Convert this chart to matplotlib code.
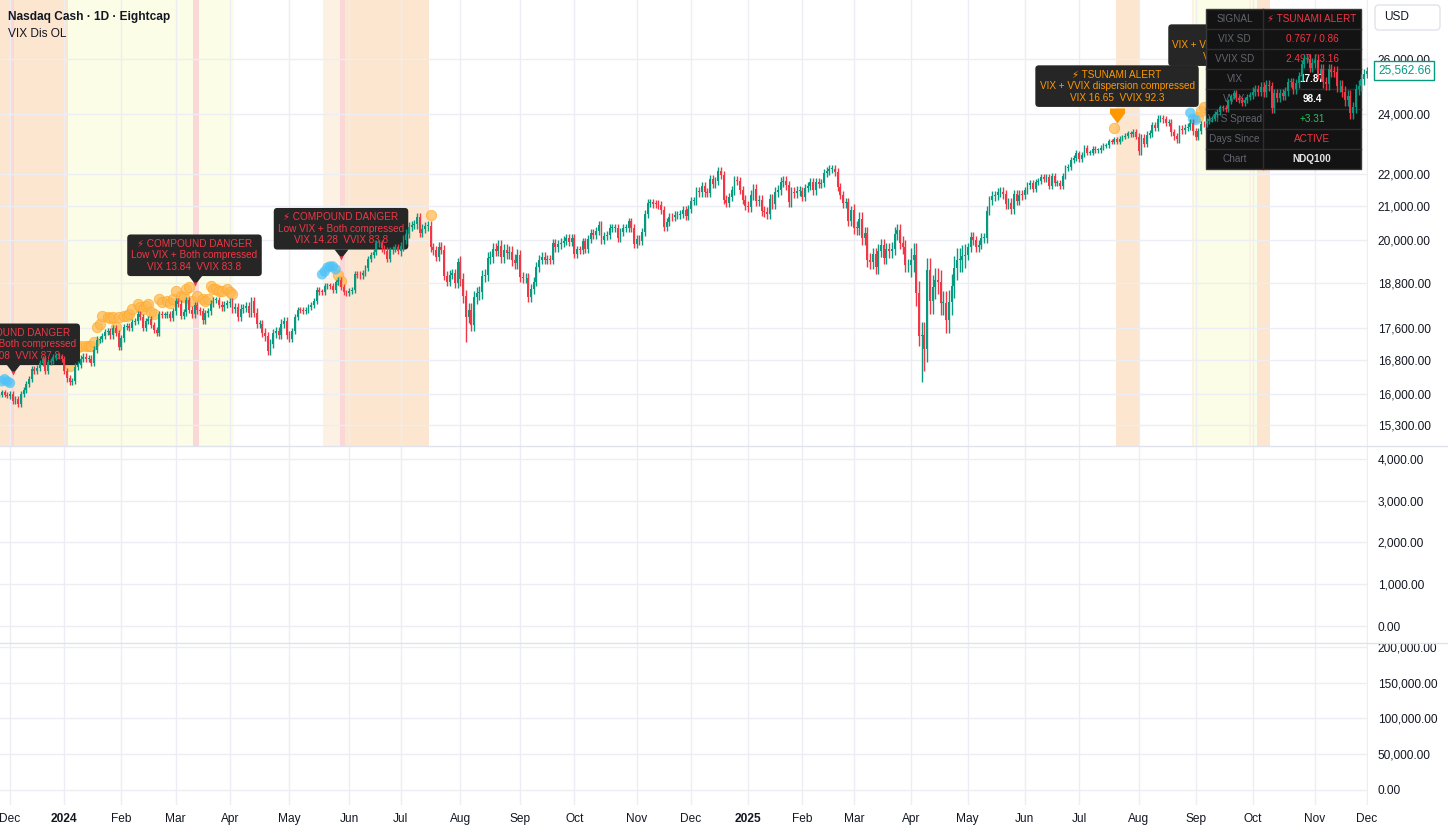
import numpy as np
import pandas as pd
import matplotlib
matplotlib.use("Agg")
import matplotlib.pyplot as plt
import matplotlib.transforms as mtransforms
from matplotlib.patches import Rectangle, FancyBboxPatch
from matplotlib.lines import Line2D
from matplotlib.ticker import FixedLocator, FuncFormatter, NullLocator

plt.rcParams['font.family'] = ['Liberation Sans', 'DejaVu Sans']

# ---------------------------------------------------------------- data
HOLIDAYS = ["2023-12-25", "2024-01-01", "2024-01-15", "2024-02-19", "2024-03-29",
            "2024-05-27", "2024-06-19", "2024-07-04", "2024-09-02", "2024-11-28",
            "2024-12-25", "2025-01-01", "2025-01-09", "2025-01-20", "2025-02-17",
            "2025-04-18", "2025-05-26", "2025-06-19", "2025-07-04", "2025-09-01",
            "2025-11-27"]
dates = pd.bdate_range("2023-11-27", "2025-12-01", freq="C", holidays=HOLIDAYS)

nov23 = [15980, 16040, 15990, 15960]
dec23 = [15997, 15839, 15880, 15770, 15997, 16085, 16229, 16364, 16585, 16553, 16623, 16730,
         16830, 16553, 16762, 16777, 16878, 16906, 16898, 16826]
jan24 = [16543, 16368, 16283, 16306, 16649, 16696, 16843, 16891, 16832, 16844, 16745, 17065,
         17314, 17330, 17400, 17500, 17519, 17421, 17597, 17476, 17137]
feb24 = [17345, 17642, 17647, 17615, 17755, 17783, 17962, 17882, 17600, 17778, 17845, 17685,
         17550, 17480, 17967, 17937, 17954, 17966, 17874, 18043]
mar24 = [18302, 18234, 17917, 18018, 18339, 18080, 17965, 18204, 18061, 18036, 17808, 17985,
         18040, 18240, 18339, 18339, 18212, 18143, 18209, 18254]
apr24 = [18277, 18109, 18153, 17892, 18108, 18132, 18168, 17988, 18319, 18003, 17707, 17707,
         17493, 17394, 17037, 17211, 17471, 17526, 17430, 17718, 17783, 17441]
may24 = [17322, 17540, 17890, 18070, 18068, 18060, 18085, 18161, 18200, 18322, 18593, 18557,
         18546, 18701, 18722, 18710, 18598, 18808, 18869, 18676, 18538, 18536]
jun24 = [18575, 18609, 19036, 19024, 19000, 19074, 19210, 19466, 19577, 19659, 19903, 19908,
         19761, 19700, 19473, 19701, 19750, 19790, 19683]
jul24 = [19815, 20011, 20186, 20392, 20439, 20459, 20675, 20212, 20331, 20408, 20427, 19799,
         19710, 19523, 19803, 19723, 18998, 18830, 19024, 19059, 18797, 19362]
aug24 = [18890, 18440, 17895, 18080, 17693, 18413, 18513, 18540, 18990, 19020, 19484, 19508,
         19750, 19700, 19820, 19520, 19720, 19620, 19660, 19430, 19360, 19575]
sep24 = [18960, 18920, 18930, 18420, 18640, 18830, 19240, 19440, 19520, 19440, 19455, 19440,
         19910, 19800, 19880, 19930, 19980, 20060, 19950, 20060]
oct24 = [19590, 19730, 19710, 19960, 19750, 20030, 20200, 20140, 20270, 20440, 20010, 20120,
         20150, 20350, 20360, 20360, 20060, 20240, 20350, 20350, 20550, 20360, 19890]
nov24 = [20030, 19970, 20240, 20780, 21100, 21120, 21080, 21070, 21030, 20900, 20390, 20530,
         20690, 20670, 20740, 20740, 20780, 20880, 20710, 20930]
dec24 = [21160, 21170, 21460, 21430, 21620, 21430, 21410, 21840, 21690, 21780, 22100, 21980,
         21210, 21110, 21290, 21490, 21800, 21790, 21500, 21210, 21010]
jan25 = [20980, 21350, 21550, 21170, 21190, 20850, 20820, 20760, 21240, 21080, 21440, 21500,
         21760, 21790, 21650, 21130, 21450, 21410, 21480, 21480]
feb25 = [21300, 21560, 21640, 21750, 21490, 21760, 21700, 21720, 22030, 22110, 22170, 22180,
         22060, 21610, 21350, 21090, 21130, 20550, 20880]
mar25 = [20360, 20350, 20630, 20050, 20200, 19430, 19370, 19590, 19230, 19700, 19850, 19500,
         19740, 19680, 19750, 20180, 20290, 19920, 19800, 19280, 19280]
apr25 = [19440, 19580, 18520, 17400, 17430, 17090, 19150, 18310, 18690, 18870, 18830, 18260,
         18260, 17810, 18280, 18710, 19210, 19430, 19430, 19540, 19570]
may25 = [19790, 20100, 19990, 19790, 19870, 20060, 20060, 20870, 21190, 21320, 21340, 21430,
         21450, 21370, 21070, 21110, 20920, 21370, 21180, 21360, 21340]
jun25 = [21490, 21650, 21720, 21550, 21760, 21790, 21910, 21860, 21910, 21630, 21940, 21720,
         21720, 21630, 21940, 22190, 22240, 22450, 22530, 22680]
jul25 = [22480, 22640, 22870, 22690, 22700, 22830, 22780, 22780, 22860, 22930, 22950, 23080,
         23070, 23150, 23060, 23160, 23220, 23270, 23360, 23310, 23400, 23220]
aug25 = [22760, 23200, 23000, 23300, 23350, 23620, 23540, 23840, 23850, 23830, 23710, 23710,
         23380, 23240, 23140, 23500, 23450, 23530, 23570, 23700, 23410]
sep25 = [23230, 23410, 23660, 23650, 23760, 23840, 23850, 24000, 24090, 24240, 24220, 24180,
         24450, 24630, 24760, 24580, 24500, 24400, 24500, 24610, 24680]
oct25 = [24800, 24880, 24790, 24980, 24780, 25050, 24990, 24220, 24750, 24580, 24750, 24650,
         24820, 25140, 25140, 24890, 25100, 25360, 25820, 26010, 26010, 25680, 25860]
nov25 = [25970, 25440, 25620, 25130, 25060, 25610, 25530, 25520, 24990, 25010, 24800, 24500,
         24640, 24050, 24240, 24880, 25020, 25240, 25430]
dec25 = [25562.66]

# typical wick length (points) per month, Nov-23 .. Dec-25
wick_by_month = [50, 70, 80, 80, 90, 110, 80, 90, 130, 170, 130, 110, 120,
                 130, 150, 130, 190, 330, 140, 100, 80, 120, 100, 160, 200, 150]
low_override = {"2024-08-05": 17250, "2025-04-04": 17150, "2025-04-07": 16280,
                "2025-04-08": 16540}
high_override = {"2025-04-09": 19500}

# signal shading (trading-day numbers, inclusive)
band_kind = ["peach", "pink", "yellow", "pink", "yellow", "light", "pink", "peach",
             "peach", "light", "yellow", "light", "yellow", "peach"]
band_start = [0, 5, 26, 72, 74, 120, 126, 128, 412, 440, 441, 461, 462, 464]
band_end = [25, 5, 71, 73, 86, 125, 127, 158, 420, 440, 460, 461, 463, 468]

orange_idx = [26, 27, 29, 30, 32, 33, 34, 35, 36, 37, 38, 40, 41, 42, 43, 44, 46, 47, 48, 49,
              51, 52, 53, 54, 55, 56, 57, 59, 60, 62, 63, 64, 65, 67, 68, 69, 70, 71, 73, 75,
              76, 77, 78, 79, 80, 81, 82, 84, 85, 86, 125, 126, 159, 411, 442, 443, 444]
orange_val = [16660, 16990, 17130, 17150, 17150, 17150, 17160, 17250, 17630, 17710, 17910,
              17890, 17860, 17890, 17630, 17890, 17910, 17910, 17970, 18100, 18230, 18150,
              18100, 18180, 18230, 18020, 17970, 18360, 18280, 18310, 18250, 18360, 18580,
              18440, 18420, 18630, 18690, 18310, 18440, 18360, 18310, 18360, 18710, 18630,
              18630, 18580, 18580, 18630, 18550, 18500, 19000, 18860, 20740, 23530, 23900,
              24100, 24250]
blue_idx = [1, 2, 3, 4, 119, 120, 121, 122, 123, 124, 439, 440, 441]
blue_val = [16300, 16350, 16300, 16260, 19030, 19110, 19220, 19250, 19250, 19170,
            24050, 23840, 23800]

alert_idx = [5, 72, 126, 412, 461]
alert_val = [16494, 18765, 19500, 23700, 25150]
alert_kind = ["compound", "compound", "compound", "tsunami", "tsunami"]
alert_vix = ["13.08", "13.84", "14.28", "16.65", "16.31"]
alert_vvix = ["87.8", "83.8", "83.8", "92.3", "94.6"]

price_ticks = [15300, 16000, 16800, 17600, 18800, 20000, 21000, 22000, 24000, 26000]
pane2_ticks = [0, 1000, 2000, 3000, 4000]
pane3_ticks = [0, 50000, 100000, 150000, 200000]

table_labels = ["SIGNAL", "VIX SD", "VVIX SD", "VIX", "VVIX", "VTS Spread", "Days Since", "Chart"]
table_values = ["⚡ TSUNAMI ALERT", "0.767 / 0.86", "2.497 / 3.16", "17.87", "98.4",
                "+3.31", "ACTIVE", "NDQ100"]
table_colors = ["#f23645", "#f23645", "#f23645", "#ffffff", "#ffffff", "#22c55e",
                "#f23645", "#e6e6e6"]
table_bold = [False, False, False, True, True, False, False, True]

# ---------------------------------------------------------------- prep
close = np.array(sum([nov23, dec23, jan24, feb24, mar24, apr24, may24, jun24, jul24, aug24,
                      sep24, oct24, nov24, dec24, jan25, feb25, mar25, apr25, may25, jun25,
                      jul25, aug25, sep25, oct25, nov25, dec25], []), float)
assert len(close) == len(dates), (len(close), len(dates))
n = len(close)
opens = np.r_[close[0], close[:-1]]
months = dates.to_period("M")
month_id = (months.year - 2023) * 12 + months.month - 11
wick = np.array(wick_by_month, float)[month_id]
highs = np.maximum(opens, close) + wick
lows = np.minimum(opens, close) - wick
for d, v in low_override.items():
    lows[dates.get_loc(pd.Timestamp(d))] = v
for d, v in high_override.items():
    highs[dates.get_loc(pd.Timestamp(d))] = v

starts = np.flatnonzero(months[1:] != months[:-1]) + 1
mlabels = [str(dates[i].year) if dates[i].month == 1 else dates[i].strftime("%b") for i in starts]

GREEN, RED = "#089981", "#f23645"
GRID = "#eceef3"
TXT = "#131722"
band_colors = {"peach": "#fde6cf", "light": "#fdf1e3", "pink": "#fbd8d8", "yellow": "#fbfde6"}
FS = 8.6

W, H = 1448, 833
PX = mtransforms.Affine2D().scale(1, -1).translate(0, H)   # figure pixels, y from top

fig = plt.figure(figsize=(W / 100, H / 100), dpi=100)
PLOT_W = 1368
ax1 = fig.add_axes([0, (H - 446) / H, PLOT_W / W, 446 / H])
ax2 = fig.add_axes([0, (H - 643) / H, PLOT_W / W, 197 / H])
ax3 = fig.add_axes([0, (H - 805) / H, PLOT_W / W, 162 / H])
xlim = (0.315, 504.5)

fmt = FuncFormatter(lambda v, p: f"{v:,.2f}")
for ax in (ax1, ax2, ax3):
    ax.set_xlim(*xlim)
    for s in ax.spines.values():
        s.set_visible(False)
    ax.yaxis.tick_right()
    ax.xaxis.set_major_locator(FixedLocator(starts))
    ax.grid(True, color=GRID, lw=1)
    ax.set_axisbelow(True)
    ax.tick_params(axis="both", length=0, labelsize=FS, labelcolor=TXT, pad=7)
    ax.yaxis.set_major_formatter(fmt)
    ax.set_facecolor("none")

ax1.set_yscale("log")
ax1.set_ylim(14841, 28320)
ax1.yaxis.set_major_locator(FixedLocator(price_ticks))
ax1.yaxis.set_minor_locator(NullLocator())
ax1.yaxis.set_major_formatter(fmt)
ax1.tick_params(axis="x", labelbottom=False)
ax2.set_ylim(-407, 4311)
ax2.yaxis.set_major_locator(FixedLocator(pane2_ticks))
ax2.tick_params(axis="x", labelbottom=False)
ax3.set_ylim(-20979, 205594)
ax3.yaxis.set_major_locator(FixedLocator(pane3_ticks))
ax3.set_xticks(starts, mlabels)
ax3.tick_params(axis="x", pad=6)
for lbl in ax3.get_xticklabels():
    if lbl.get_text().isdigit():
        lbl.set_fontweight("bold")

# shading
for k, a, b in zip(band_kind, band_start, band_end):
    ax1.axvspan(a - 0.5, b + 0.5, color=band_colors[k], lw=0, zorder=0.1)

# candles
x = np.arange(n)
col = np.where(close >= opens, GREEN, RED)
ax1.vlines(x, lows, highs, colors=col, lw=1.0, zorder=5)
blo = np.minimum(opens, close)
bhi = np.maximum(np.maximum(opens, close), blo * 1.0012)
ax1.bar(x, bhi - blo, bottom=blo, width=0.68, color=col, lw=0, zorder=5)

# signal dots
ax1.scatter(orange_idx, orange_val, s=56, c="#ffb74d", alpha=0.72, edgecolors="#ffa726",
            linewidths=0.6, zorder=2)
ax1.scatter(blue_idx, blue_val, s=56, c="#4fc3f7", alpha=0.75, edgecolors="none", zorder=2)

# alert labels
for i, v, kind, vix, vvix in zip(alert_idx, alert_val, alert_kind, alert_vix, alert_vvix):
    if kind == "compound":
        txt = f"⚡ COMPOUND DANGER\nLow VIX + Both compressed\nVIX {vix}  VVIX {vvix}"
        tc, gap = RED, 8
        ax1.plot([i], [v], marker=[(-7, 9), (7, 9), (0, 0)], ms=13, color="#262626",
                 mew=0, zorder=3)
        ax1.plot([i], [v], marker="v", ms=3, color=RED, mew=0, zorder=3)
    else:
        txt = f"⚡ TSUNAMI ALERT\nVIX + VVIX dispersion compressed\nVIX {vix}  VVIX {vvix}"
        tc, gap = "#ff9800", 16
        ax1.plot([i], [v], marker=[(-7.5, 15), (7.5, 15), (7.5, 10), (0, 0), (-7.5, 10)],
                 ms=21.6, color="#ff9800", mew=0, zorder=3)
    ax1.annotate(txt, xy=(i, v), xytext=(0, gap + 4.2), textcoords="offset pixels",
                 ha="center", va="bottom", multialignment="center", fontsize=7.2,
                 color=tc, linespacing=1.2, zorder=3, annotation_clip=False,
                 bbox=dict(boxstyle="round,pad=0.42,rounding_size=0.35", fc="#262626",
                           ec="none"))

# status table (sits under the candles, like the original)
tx, ty, c0, c1, rh = 1206, 9, 57, 98, 20
nrow = len(table_labels)
ax1.add_patch(Rectangle((tx, ty), c0 + c1, rh * nrow, transform=PX, fc="#131313",
                        ec="#3a3a3a", lw=1, zorder=3.5))
for r in range(1, nrow):
    ax1.add_line(Line2D([tx, tx + c0 + c1], [ty + r * rh] * 2, transform=PX,
                        color="#2e2e2e", lw=1, zorder=3.6))
ax1.add_line(Line2D([tx + c0] * 2, [ty, ty + rh * nrow], transform=PX, color="#2e2e2e",
                    lw=1, zorder=3.6))
for r, (lab, val, vc, vb) in enumerate(zip(table_labels, table_values, table_colors, table_bold)):
    yy = ty + rh * r + rh / 2
    ax1.text(tx + c0 / 2, yy, lab, transform=PX, ha="center", va="center", fontsize=7.2,
             color="#62656e", zorder=3.7)
    ax1.text(tx + c0 + c1 / 2, yy, val, transform=PX, ha="center", va="center", fontsize=7.2,
             color=vc, fontweight="bold" if vb else "normal", zorder=3.7)

# last price tag
ax1.annotate(f"{close[-1]:,.2f}", xy=(1, close[-1]), xycoords=("axes fraction", "data"),
             xytext=(10, 0), textcoords="offset pixels", ha="left", va="center",
             fontsize=FS, color=GREEN, annotation_clip=False,
             bbox=dict(boxstyle="square,pad=0.3", fc="white", ec=GREEN, lw=1))

# header, currency box, pane separators
fig.text(8, 17, "Nasdaq Cash · 1D · Eightcap", transform=PX, fontsize=8.6,
         fontweight="bold", color=TXT, va="center")
fig.text(8, 34, "VIX Dis OL", transform=PX, fontsize=8.6, color=TXT, va="center")
fig.add_artist(FancyBboxPatch((1375, 5), 65, 25, boxstyle="round,pad=0,rounding_size=4",
                              transform=PX, fc="white", ec="#e0e3eb", lw=1))
fig.text(1384, 17.5, "USD", transform=PX, fontsize=FS, color=TXT, va="center")
for yy in (446, 643):
    fig.add_artist(Line2D([0, W], [yy, yy], transform=PX, color="#e0e3eb", lw=1))

fig.savefig("out.png", dpi=100, facecolor="white")
